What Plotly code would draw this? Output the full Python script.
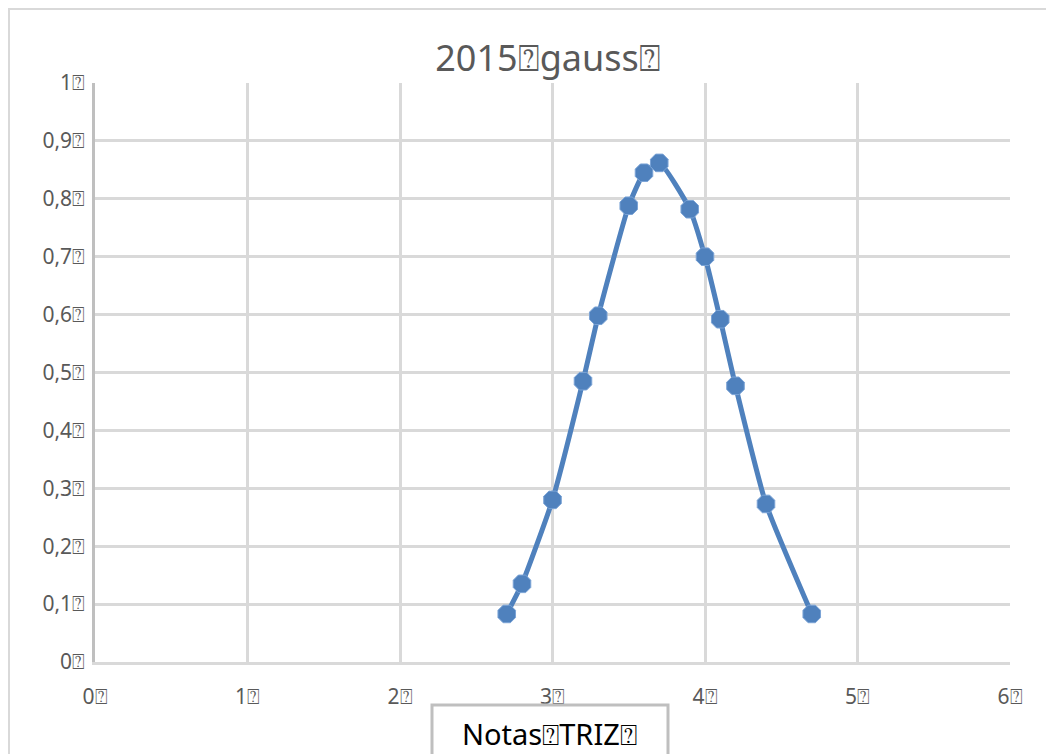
import plotly.graph_objects as go

T = "\u2370"  # boxed question mark, as the missing glyphs appear in the reference

notas = [2.7, 2.8, 3.0, 3.2, 3.3, 3.5, 3.6, 3.7, 3.9, 4.0, 4.1, 4.2, 4.4, 4.7]
gauss = [0.083, 0.135, 0.28, 0.485, 0.598, 0.788, 0.845, 0.862, 0.782, 0.70, 0.592, 0.477, 0.273, 0.083]

x_ticks = [0, 1, 2, 3, 4, 5, 6]
x_labels = ["0" + T, "1" + T, "2" + T, "3" + T, "4" + T, "5" + T, "6" + T]
y_ticks = [0, 0.1, 0.2, 0.3, 0.4, 0.5, 0.6, 0.7, 0.8, 0.9, 1.0]
y_labels = ["0" + T, "0,1" + T, "0,2" + T, "0,3" + T, "0,4" + T, "0,5" + T,
            "0,6" + T, "0,7" + T, "0,8" + T, "0,9" + T, "1" + T]

title_text = "2015" + T + "gauss" + T
xtitle_text = "Notas" + T + "TRIZ" + T

blue = "#4F81BD"
grid = "#D9D9D9"
txt = "#595959"
font = "Noto Sans"

fig = go.Figure()
fig.add_trace(go.Scatter(
    x=notas, y=gauss, mode="lines+markers",
    line=dict(color=blue, width=5, shape="spline", smoothing=0.5),
    marker=dict(color=blue, size=19, symbol="octagon", line=dict(color="#7aa3d6", width=1)),
    showlegend=False,
))

fig.update_layout(
    width=1054, height=754,
    margin=dict(l=87, r=52, t=75, b=100),
    paper_bgcolor="white", plot_bgcolor="white",
    title=dict(text=title_text, x=540 / 1054, xanchor="center", y=1 - 50 / 754, yanchor="middle",
               font=dict(family=font, size=36, color=txt)),
    font=dict(family=font, color=txt),
)
fig.update_xaxes(
    range=[0, 6], tickvals=x_ticks, ticktext=x_labels,
    showgrid=True, gridcolor=grid, gridwidth=2.5,
    showline=True, linecolor=grid, linewidth=2.5, mirror=False,
    zeroline=False, ticks="", tickfont=dict(family=font, size=21, color=txt),
    ticklabelstandoff=14,
)
fig.update_yaxes(
    range=[0, 1], tickvals=y_ticks, ticktext=y_labels,
    showgrid=True, gridcolor=grid, gridwidth=2.5,
    showline=True, linecolor="#BFBFBF", linewidth=2.5,
    zeroline=False, ticks="", tickfont=dict(family=font, size=21, color=txt),
    ticklabelstandoff=3,
)

# outer chart frame
fig.add_shape(type="rect", xref="paper", yref="paper",
              x0=(9 - 95) / 915, x1=(1080 - 95) / 915,
              y0=(662 - 780) / 579, y1=(662 - 9) / 579,
              line=dict(color="#D9D9D9", width=2), layer="below")
# axis title box
fig.add_shape(type="rect", xref="paper", yref="paper",
              x0=(432 - 95) / 915, x1=(668 - 95) / 915,
              y0=(662 - 790) / 579, y1=(662 - 705) / 579,
              line=dict(color="#BFBFBF", width=3), fillcolor="white")
fig.add_annotation(text=xtitle_text, xref="paper", yref="paper",
                   x=(549 - 95) / 915, y=(662 - 733) / 579, showarrow=False,
                   xanchor="center", yanchor="middle",
                   font=dict(family=font, size=29, color="black"))

fig.write_html("out.html")
